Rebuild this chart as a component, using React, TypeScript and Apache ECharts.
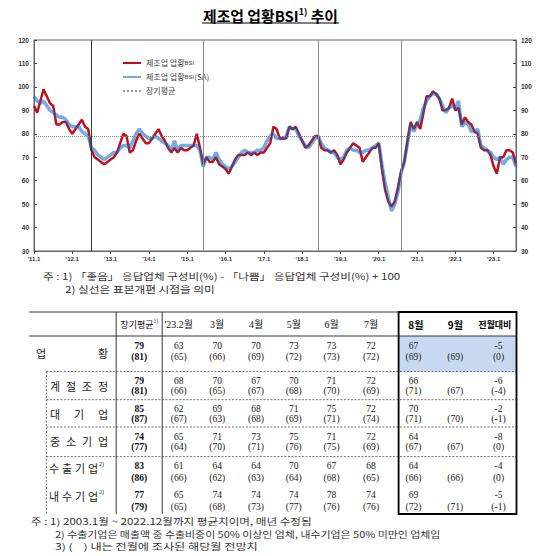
import React, { useEffect, useRef } from "react";
import * as echarts from "echarts";

// ---------------- chart data ----------------
const YEARS = [2011, 2012, 2013, 2014, 2015, 2016, 2017, 2018, 2019, 2020, 2021, 2022, 2023];
const LAST_MONTH_2023 = 8;

// 제조업 업황BSI (원계열), monthly 2011.1 ~ 2023.8
const BSI = [
  92, 89, 94, 99, 96, 93, 92, 84, 84, 85, 85, 82, // 2011
  80, 82, 84, 86, 83, 82, 73, 70, 69, 68, 67, 68, // 2012
  69, 70, 72, 76, 80, 79, 72, 73, 77, 80, 78, 76, // 2013
  76, 78, 80, 82, 79, 77, 74, 72, 74, 72, 74, 73, // 2014
  73, 74, 75, 80, 74, 67, 70, 68, 68, 70, 67, 66, // 2015
  65, 63, 66, 69, 71, 71, 71, 72, 71, 72, 71, 72, // 2016
  72, 74, 76, 83, 82, 78, 78, 78, 83, 82, 83, 80, // 2017
  77, 74, 75, 77, 79, 79, 74, 73, 73, 72, 73, 71, // 2018
  67, 69, 72, 74, 76, 75, 74, 68, 70, 72, 74, 74, // 2019
  76, 65, 56, 51, 49, 51, 57, 64, 68, 77, 85, 82, // 2020
  85, 82, 89, 96, 96, 98, 97, 95, 90, 90, 91, 95, // 2021
  90, 91, 84, 87, 85, 84, 81, 80, 74, 73, 73, 71, // 2022
  66, 63, 70, 70, 73, 73, 72, 67,                 // 2023
];

// 제조업 업황BSI (계절조정)
const BSI_SA = [
  96, 94, 93, 94, 92, 90, 89, 88, 87, 87, 86, 84,
  83, 83, 83, 81, 80, 79, 74, 73, 71, 70, 69, 70,
  71, 72, 72, 74, 75, 75, 74, 77, 80, 82, 80, 79,
  78, 78, 79, 78, 77, 76, 75, 73, 77, 73, 75, 75,
  75, 75, 75, 75, 73, 66, 70, 70, 69, 72, 69, 67,
  66, 65, 66, 68, 70, 72, 73, 72, 72, 72, 73, 73,
  74, 77, 79, 80, 78, 78, 78, 79, 83, 82, 82, 79,
  77, 75, 74, 76, 78, 79, 76, 74, 73, 72, 72, 70,
  69, 70, 73, 74, 73, 73, 72, 72, 73, 73, 74, 75,
  76, 67, 59, 53, 47, 50, 55, 63, 68, 76, 84, 81,
  84, 86, 91, 94, 96, 97, 97, 95, 92, 89, 91, 92,
  91, 94, 83, 85, 84, 81, 81, 82, 75, 74, 73, 72,
  70, 69, 70, 67, 69, 70, 70, 66,
];

const LONG_RUN_AVG = 79;
const SAMPLE_REVISIONS = ["'12.7", "'15.6", "'18.6", "'20.8"];
const SERIES_NAMES = ["제조업 업황BSI", "제조업 업황BSI(SA)", "장기평균"];
const Y_MIN = 30;
const Y_MAX = 120;
const Y_STEP = 10;

const MONTHS: string[] = [];
YEARS.forEach((y) => {
  const last = y === 2023 ? LAST_MONTH_2023 : 12;
  for (let m = 1; m <= last; m++) MONTHS.push(`'${String(y).slice(2)}.${m}`);
});

// ---------------- table data ----------------
const TABLE_HEADERS = ["장기평균", "'23.2월", "3월", "4월", "5월", "6월", "7월", "8월", "9월", "전월대비"];
const ROW_LABELS = ["업황", "계절조정", "대기업", "중소기업", "수출기업", "내수기업"];
const ROW_NOTE = ["", "", "", "", "2)", "2)"];
const LONG_AVG = [79, 79, 85, 74, 83, 77];
const LONG_AVG_PREV = [81, 81, 87, 77, 86, 79];
const ACTUAL = [
  [63, 70, 70, 73, 73, 72, 67],
  [68, 70, 67, 70, 71, 72, 66],
  [62, 69, 68, 71, 75, 72, 70],
  [65, 71, 73, 75, 71, 72, 64],
  [61, 64, 64, 70, 67, 68, 64],
  [65, 74, 74, 74, 78, 74, 69],
];
const FORECAST = [
  [65, 66, 69, 72, 73, 72, 69],
  [66, 65, 67, 68, 70, 69, 71],
  [67, 63, 68, 69, 71, 74, 71],
  [64, 70, 71, 76, 75, 69, 67],
  [66, 62, 63, 64, 68, 65, 66],
  [65, 68, 73, 77, 76, 76, 72],
];
const SEP_FORECAST = [69, 67, 70, 67, 66, 71];
const MOM_ACTUAL = [-5, -6, -2, -8, -4, -5];
const MOM_FORECAST = [0, -4, -1, 0, 0, -1];

const CHART_NOTES = [
  "주 : 1) 「좋음」 응답업체 구성비(%) - 「나쁨」 응답업체 구성비(%) + 100",
  "2) 실선은 표본개편 시점을 의미",
];
const TABLE_NOTES = [
  "주 : 1) 2003.1월 ~ 2022.12월까지 평균치이며, 매년 수정됨",
  "2) 수출기업은 매출액 중 수출비중이 50% 이상인 업체, 내수기업은 50% 미만인 업체임",
  "3) (    ) 내는 전월에 조사된 해당월 전망치",
];
const TITLE_MAIN = "제조업 업황BSI";
const TITLE_SUP = "1)";
const TITLE_TAIL = " 추이";

// ---------------- helpers ----------------
const KR = "'Noto Sans CJK KR', sans-serif";
const SERIF = "'Liberation Serif', 'Noto Sans CJK KR', serif";
const SANS = "'Liberation Sans', 'Noto Sans CJK KR', sans-serif";

let ctx: CanvasRenderingContext2D | null = null;
function tw(text: string, size: number, family: string, weight = "normal"): number {
  if (!ctx) ctx = document.createElement("canvas").getContext("2d");
  if (!ctx) return text.length * size * 0.6;
  ctx.font = `${weight} ${size}px ${family}`;
  return ctx.measureText(text).width;
}

function textEl(
  x: number,
  y: number,
  text: string,
  size: number,
  family: string,
  opt: { weight?: string; align?: string; fill?: string; scaleX?: number } = {}
) {
  const align = opt.align || "center";
  return {
    type: "text",
    x,
    y,
    scaleX: opt.scaleX ?? 1,
    z: 100,
    silent: true,
    style: {
      text,
      fontSize: size,
      fontFamily: family,
      fontWeight: opt.weight || "normal",
      fill: opt.fill || "#111",
      align,
      textAlign: align,
      verticalAlign: "middle",
      textVerticalAlign: "middle",
    },
  };
}

function lineEl(x1: number, y1: number, x2: number, y2: number, w = 0.8, dash?: number[], color = "#222") {
  return {
    type: "line",
    z: 99,
    silent: true,
    shape: { x1, y1, x2, y2 },
    style: { stroke: color, lineWidth: w, lineDash: dash || null },
  };
}

function fmtSigned(v: number) {
  return v < 0 ? `-${Math.abs(v)}` : `${v}`;
}

function buildGraphics() {
  const els: any[] = [];

  // Title
  let fs = 14;
  const total0 = tw(TITLE_MAIN, fs, KR, "bold") + tw(TITLE_SUP, fs * 0.6, KR, "bold") + tw(TITLE_TAIL, fs, KR, "bold");
  fs = Math.max(11, Math.min(16, (fs * 135) / total0));
  const w1 = tw(TITLE_MAIN, fs, KR, "bold");
  const ws = tw(TITLE_SUP, fs * 0.6, KR, "bold");
  const w2 = tw(TITLE_TAIL, fs, KR, "bold");
  const tx = 270.5 - (w1 + ws + w2) / 2;
  els.push(textEl(tx, 15.5, TITLE_MAIN, fs, KR, { weight: "bold", align: "left", fill: "#000" }));
  els.push(textEl(tx + w1, 11.5, TITLE_SUP, fs * 0.6, KR, { weight: "bold", align: "left", fill: "#000" }));
  els.push(textEl(tx + w1 + ws, 15.5, TITLE_TAIL, fs, KR, { weight: "bold", align: "left", fill: "#000" }));
  els.push(lineEl(tx - 1, 23, tx + w1 + ws + w2 + 1, 23, 1.2, undefined, "#000"));

  // Notes under chart
  const cn1 = tw(CHART_NOTES[0], 9.5, KR);
  const cn2 = tw(CHART_NOTES[1], 9.5, KR);
  els.push(textEl(43, 276, CHART_NOTES[0], 9.5, KR, { align: "left", fill: "#333", scaleX: 358 / cn1 }));
  els.push(textEl(65, 288.5, CHART_NOTES[1], 9.5, KR, { align: "left", fill: "#333", scaleX: 150 / cn2 }));

  // ---- table ----
  const L = 29.2, VA = 116.2, VB = 162.2, BX1 = 398.6, BX2 = 516.5, DV = 46.4;
  const TOP = 312, HB = 336, BOT = 514;
  const ROW_BOTTOMS = [371.5, 399.7, 427, 456.6];
  const Y1 = [345.5, 380.5, 408.3, 436.6, 465.5, 494.5];
  const Y2 = [356, 390.6, 418.4, 446.8, 477.5, 506.5];
  const LABEL_Y = [353, 386, 414, 441, 468, 495.5];
  const HEAD_X = [139.2, 178.7, 217.2, 256, 293.8, 331.6, 371.1, 415.8, 455.3, 494.8];
  const VAL_X = [139.2, 178.7, 217.2, 256, 293.8, 331.6, 371.1, 413.5, 455.3, 498.5];
  const NUM = 9.6;

  els.push({
    type: "rect",
    z: 98,
    silent: true,
    shape: { x: BX1, y: HB, width: BX2 - BX1, height: ROW_BOTTOMS[0] - HB },
    style: { fill: "#c6d9f1" },
  });
  els.push(lineEl(L, TOP, BX2, TOP, 0.9));
  els.push(lineEl(L, HB, BX2, HB, 0.9));
  ROW_BOTTOMS.forEach((y) => els.push(lineEl(DV, y, BX2, y, 0.7, [2, 1.5], "#333")));
  els.push(lineEl(VA, TOP, VA, BOT, 0.9));
  els.push(lineEl(VB, TOP, VB, BOT, 0.9));
  els.push(lineEl(DV, ROW_BOTTOMS[0], DV, BOT, 0.7, [2, 1.5], "#333"));
  els.push({
    type: "rect",
    z: 101,
    silent: true,
    shape: { x: BX1, y: TOP, width: BX2 - BX1, height: BOT - TOP },
    style: { fill: "none", stroke: "#000", lineWidth: 1.8 },
  });

  // headers
  TABLE_HEADERS.forEach((h, i) => {
    if (i === 0) {
      const hw = tw(h, 9, KR);
      const sw = tw("1)", 5.5, SERIF);
      const sx = HEAD_X[0] - (hw + sw) / 2;
      els.push(textEl(sx, 324.5, h, 9, KR, { align: "left" }));
      els.push(textEl(sx + hw, 321, "1)", 5.5, SERIF, { align: "left" }));
    } else if (i >= 7) {
      const size = i === 9 ? 9 : 10;
      els.push(textEl(HEAD_X[i], 324.5, h, size, KR, { weight: "bold", fill: "#000" }));
    } else {
      els.push(textEl(HEAD_X[i], 324.5, h, 10, SERIF));
    }
  });

  // row labels
  const LABEL_SPAN: [number, number][] = [
    [41, 103],
    [55, 103],
    [55, 103],
    [55, 103],
    [54, 93],
    [54, 93],
  ];
  ROW_LABELS.forEach((lab, r) => {
    const chars = Array.from(lab);
    const [a, b] = LABEL_SPAN[r];
    const step = chars.length > 1 ? (b - a) / (chars.length - 1) : 0;
    chars.forEach((c, k) => els.push(textEl(a + step * k, LABEL_Y[r], c, 11, KR, { fill: "#222" })));
    if (ROW_NOTE[r]) els.push(textEl(b + 6, LABEL_Y[r] - 4, ROW_NOTE[r], 6, SERIF, { align: "left", fill: "#222" }));
  });

  // values
  ROW_LABELS.forEach((_, r) => {
    els.push(textEl(VAL_X[0], Y1[r], String(LONG_AVG[r]), NUM, SERIF, { weight: "bold" }));
    els.push(textEl(VAL_X[0], Y2[r], `(${LONG_AVG_PREV[r]})`, NUM, SERIF, { weight: "bold" }));
    ACTUAL[r].forEach((v, j) => {
      els.push(textEl(VAL_X[1 + j], Y1[r], String(v), NUM, SERIF, { fill: "#222" }));
      els.push(textEl(VAL_X[1 + j], Y2[r], `(${FORECAST[r][j]})`, NUM, SERIF, { fill: "#222" }));
    });
    els.push(textEl(VAL_X[8], Y2[r], `(${SEP_FORECAST[r]})`, NUM, SERIF, { fill: "#222" }));
    els.push(textEl(VAL_X[9], Y1[r], fmtSigned(MOM_ACTUAL[r]), NUM, SERIF, { fill: "#222" }));
    els.push(textEl(VAL_X[9], Y2[r], `(${fmtSigned(MOM_FORECAST[r])})`, NUM, SERIF, { fill: "#222" }));
  });

  // notes under table
  const NOTE_X = [31, 55, 55];
  const NOTE_W = [281, 386, 203];
  const NOTE_Y = [521, 533.5, 546];
  TABLE_NOTES.forEach((n, i) => {
    const w = tw(n, 9, KR);
    els.push(textEl(NOTE_X[i], NOTE_Y[i], n, 9, KR, { align: "left", fill: "#333", scaleX: NOTE_W[i] / w }));
  });

  return els;
}

export default function App() {
  const ref = useRef<HTMLDivElement>(null);

  useEffect(() => {
    if (!ref.current) return;
    const chart = echarts.init(ref.current, undefined, { renderer: "svg" });
    const yaxisBase = {
      type: "value",
      min: Y_MIN,
      max: Y_MAX,
      interval: Y_STEP,
      splitLine: { show: false },
      axisLine: { show: true, lineStyle: { color: "#666", width: 1 } },
      axisTick: { show: true, inside: true, length: 3, lineStyle: { color: "#444" } },
      axisLabel: { fontSize: 6.5, fontWeight: "bold", color: "#333", fontFamily: SANS, margin: 5 },
    };
    chart.setOption({
      animation: false,
      textStyle: { fontFamily: SANS },
      grid: { left: 34, right: 23, top: 40, bottom: 305, show: true, borderColor: "#666", borderWidth: 1 },
      legend: {
        data: SERIES_NAMES,
        orient: "vertical",
        left: 117,
        top: 54,
        itemWidth: 18,
        itemHeight: 8,
        itemGap: 6,
        selectedMode: false,
        itemStyle: { opacity: 0 },
        formatter: (name: string) => name.replace("BSI", "{s|BSI}"),
        textStyle: {
          fontSize: 8,
          color: "#444",
          fontFamily: KR,
          rich: { s: { fontSize: 6, color: "#444", fontFamily: SANS } },
        },
      },
      xAxis: {
        type: "category",
        data: MONTHS,
        boundaryGap: false,
        axisLine: { lineStyle: { color: "#666", width: 1 } },
        axisTick: { show: true, interval: (i: number) => i % 12 === 0, length: 3, lineStyle: { color: "#444" } },
        axisLabel: {
          interval: (i: number) => i % 12 === 0,
          fontSize: 6,
          fontWeight: "bold",
          color: "#333",
          fontFamily: SANS,
          margin: 5,
        },
        splitLine: { show: false },
      },
      yAxis: [
        { ...yaxisBase, position: "left" },
        { ...yaxisBase, position: "right" },
      ],
      series: [
        {
          name: SERIES_NAMES[0],
          type: "line",
          data: BSI,
          showSymbol: false,
          symbol: "none",
          z: 3,
          lineStyle: { color: "#c0101c", width: 2.5 },
          itemStyle: { color: "#c0101c" },
          markLine: {
            silent: true,
            symbol: ["none", "none"],
            label: { show: false },
            animation: false,
            data: [
              { yAxis: LONG_RUN_AVG, lineStyle: { type: "dotted", color: "#888", width: 1 } },
              ...SAMPLE_REVISIONS.map((m, i) => ({
                xAxis: m,
                lineStyle: { type: "solid", color: i === 0 ? "#333" : "#8a8a8a", width: 1 },
              })),
            ],
          },
        },
        {
          name: SERIES_NAMES[1],
          type: "line",
          data: BSI_SA,
          showSymbol: false,
          symbol: "none",
          z: 4,
          lineStyle: { color: "#0a62c4", width: 3.5, opacity: 0.55 },
          itemStyle: { color: "#7ea9dc" },
        },
        {
          name: SERIES_NAMES[2],
          type: "line",
          data: [],
          showSymbol: false,
          symbol: "none",
          lineStyle: { color: "#999", width: 0.8, type: "dotted" },
          itemStyle: { color: "#999" },
        },
      ],
      graphic: buildGraphics(),
    });
    return () => chart.dispose();
  }, []);

  return (
    <div
      ref={ref}
      style={{ position: "absolute", left: 0, top: 0, width: 539, height: 556, background: "#fff" }}
    />
  );
}
